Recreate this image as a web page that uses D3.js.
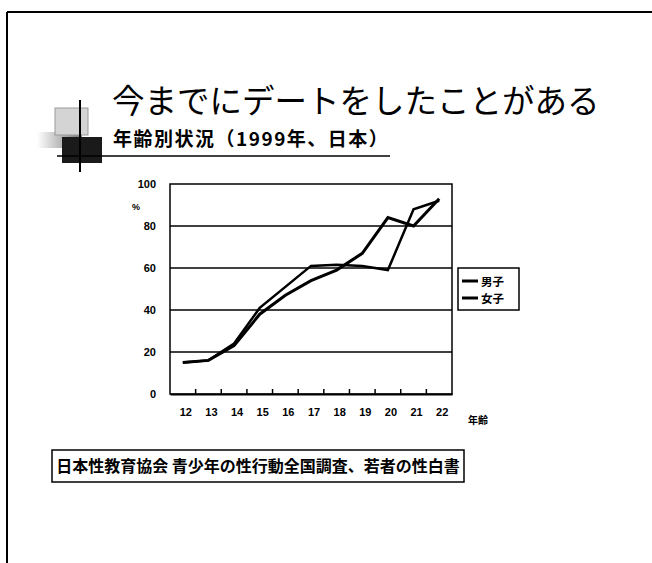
<!DOCTYPE html>
<html>
<head>
<meta charset="utf-8">
<script src="https://cdn.jsdelivr.net/npm/d3@7"></script>
<style>
  body { margin: 0; background: #fff; }
  svg { display: block; }
  text { fill: #000; }
  .jp { font-family: "Noto Sans CJK JP", sans-serif; }
  .num { font-family: "Liberation Sans", Arial, sans-serif; font-weight: bold; }
</style>
</head>
<body>
<svg class="chart" width="652" height="563"></svg>
<script>
// data
const ages = ['12', '13', '14', '15', '16', '17', '18', '19', '20', '21', '22']
const boys = [15, 16, 23, 38, 47, 54, 59, 67, 84, 80, 93]
const girls = [15, 16, 24, 41, 51, 61, 61.5, 61, 59, 88, 92]
const seriesNames = ['男子', '女子']
const yTicks = [0, 20, 40, 60, 80, 100]

const svg = d3.select('.chart')

// slide frame
svg.append('line').attr('x1', 7).attr('y1', 12).attr('x2', 7).attr('y2', 563)
  .attr('stroke', '#000').attr('stroke-width', 2)
svg.append('line').attr('x1', 7).attr('y1', 12).attr('x2', 652).attr('y2', 12)
  .attr('stroke', '#000').attr('stroke-width', 2)

// decoration next to the title
const deco = svg.append('g')
const grad = svg.append('defs').append('linearGradient').attr('id', 'fade')
grad.append('stop').attr('offset', '0%').attr('stop-color', '#fff')
grad.append('stop').attr('offset', '100%').attr('stop-color', '#777')
deco.append('rect').attr('x', 37).attr('y', 132).attr('width', 45).attr('height', 16).attr('fill', 'url(#fade)')
deco.append('rect').attr('x', 55).attr('y', 108).attr('width', 33).attr('height', 27)
  .attr('fill', '#d4d4d4').attr('stroke', '#999').attr('stroke-width', 1)
deco.append('rect').attr('x', 62).attr('y', 137).attr('width', 40).attr('height', 26).attr('fill', '#1a1a1a')
deco.append('line').attr('x1', 80).attr('y1', 100).attr('x2', 80).attr('y2', 172)
  .attr('stroke', '#000').attr('stroke-width', 2)
deco.append('line').attr('x1', 57).attr('y1', 156).attr('x2', 390).attr('y2', 156)
  .attr('stroke', '#000').attr('stroke-width', 1.5)

// titles
svg.append('text').attr('class', 'jp')
  .attr('x', 112).attr('y', 113)
  .attr('font-size', 32.5)
  .text('今までにデートをしたことがある')
svg.append('text').attr('class', 'jp')
  .attr('x', 113).attr('y', 146)
  .attr('font-size', 19).attr('font-weight', 'bold')
  .attr('letter-spacing', 1.5)
  .text('年齢別状況（1999年、日本）')

// plot area
const plotLeft = 170
const plotRight = 452
const plotTop = 184
const plotBottom = 394

const x = d3.scaleBand().domain(ages).range([plotLeft, plotRight])
const y = d3.scaleLinear().domain([0, 100]).range([plotBottom, plotTop])

// grid lines
svg.append('g').selectAll('line')
  .data(yTicks.slice(1, -1))
  .enter()
  .append('line')
  .attr('x1', plotLeft).attr('x2', plotRight)
  .attr('y1', d => y(d)).attr('y2', d => y(d))
  .attr('stroke', '#000').attr('stroke-width', 1.5)

// frame of plot
svg.append('rect').attr('x', plotLeft).attr('y', plotTop)
  .attr('width', plotRight - plotLeft).attr('height', plotBottom - plotTop)
  .attr('fill', 'none').attr('stroke', '#000').attr('stroke-width', 1.5)

// y axis labels
svg.append('g').selectAll('text')
  .data(yTicks)
  .enter()
  .append('text')
  .attr('class', 'num')
  .attr('x', 156)
  .attr('y', d => y(d) + 4)
  .attr('text-anchor', 'end')
  .attr('font-size', 11)
  .text(d => d)
svg.append('text').attr('class', 'num')
  .attr('x', 132).attr('y', 210).attr('font-size', 9).text('%')

// x axis: inward ticks between categories
const xAxis = d3.axisBottom(x).tickSize(0).tickPadding(14)
const gx = svg.append('g').attr('transform', `translate(0,${plotBottom})`).call(xAxis)
gx.select('.domain').attr('stroke', '#000').attr('stroke-width', 2)
gx.selectAll('text')
  .attr('class', 'num')
  .attr('font-size', 11)
  .attr('dx', 3)
svg.append('g').selectAll('line')
  .data(ages.slice(1))
  .enter()
  .append('line')
  .attr('x1', d => x(d)).attr('x2', d => x(d))
  .attr('y1', plotBottom).attr('y2', plotBottom - 5)
  .attr('stroke', '#000').attr('stroke-width', 1.5)
svg.append('text').attr('class', 'jp')
  .attr('x', 468).attr('y', 424)
  .attr('font-size', 10).attr('font-weight', 'bold')
  .text('年齢')

// lines
const line = d3.line()
  .x((d, i) => x(ages[i]) + x.bandwidth() / 2)
  .y(d => y(d))
const series = [boys, girls]
svg.append('g').selectAll('path')
  .data(series)
  .enter()
  .append('path')
  .attr('d', line)
  .attr('fill', 'none')
  .attr('stroke', '#000')
  .attr('stroke-width', (d, i) => i === 0 ? 3 : 2.5)
  .attr('stroke-linejoin', 'miter')

// legend
const lg = svg.append('g')
lg.append('rect').attr('x', 458).attr('y', 268).attr('width', 61).attr('height', 42)
  .attr('fill', '#fff').attr('stroke', '#000').attr('stroke-width', 1.5)
lg.selectAll('.item')
  .data(seriesNames)
  .enter()
  .append('g')
  .attr('class', 'item')
  .each(function (d, i) {
    const g = d3.select(this)
    const yy = 281 + i * 17
    g.append('line').attr('x1', 462).attr('x2', 478).attr('y1', yy).attr('y2', yy)
      .attr('stroke', '#000').attr('stroke-width', 3)
    g.append('text').attr('class', 'jp')
      .attr('x', 481).attr('y', yy + 4.5)
      .attr('font-size', 11.5).attr('font-weight', 'bold')
      .text(d)
  })

// source box
svg.append('rect').attr('x', 52).attr('y', 450).attr('width', 412).attr('height', 32)
  .attr('fill', 'none').attr('stroke', '#000').attr('stroke-width', 1.5)
svg.append('text').attr('class', 'jp')
  .attr('x', 258).attr('y', 472)
  .attr('text-anchor', 'middle')
  .attr('font-size', 16).attr('font-weight', 'bold')
  .text('日本性教育協会 青少年の性行動全国調査、若者の性白書')
</script>
</body>
</html>
